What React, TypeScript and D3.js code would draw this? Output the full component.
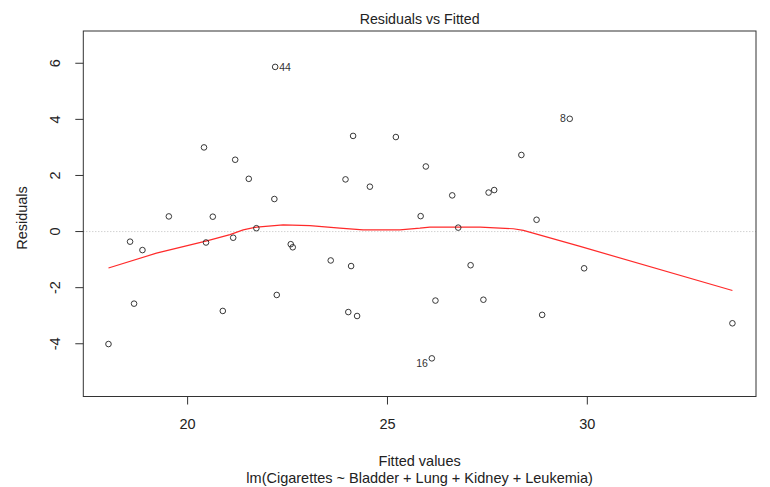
import React from "react";
import * as d3 from "d3";

// Fitted values (x) and residuals (y)
const fitted = [
  22.19, 20.41, 21.19, 21.53, 22.17, 19.53, 20.63, 24.14, 23.95, 18.56,
  18.87, 20.46, 21.14, 21.72, 22.58, 22.63, 23.58, 24.09, 18.66, 20.88,
  22.23, 24.02, 24.24, 18.02, 29.56, 25.21, 25.96, 28.35, 24.56, 26.62,
  27.53, 27.67, 25.83, 28.73, 26.77, 27.08, 29.92, 26.2, 27.4, 28.87,
  33.63, 26.11,
];
const residuals = [
  5.87, 3.0, 2.56, 1.88, 1.16, 0.54, 0.53, 3.41, 1.86, -0.36,
  -0.66, -0.39, -0.22, 0.12, -0.45, -0.56, -1.03, -1.23, -2.57, -2.83,
  -2.26, -2.87, -3.01, -4.01, 4.02, 3.37, 2.32, 2.73, 1.6, 1.29,
  1.39, 1.48, 0.55, 0.42, 0.14, -1.2, -1.31, -2.46, -2.43, -2.97,
  -3.27, -4.52,
];
// Labelled observations: index into the arrays above, label text, side
const labelIndex = [0, 24, 41];
const labelText = ["44", "8", "16"];
const labelSide = ["right", "left", "left"];

// Smoother (lowess) line
const smoothX = [18.02, 19.22, 20.48, 21.06, 21.39, 21.73, 22.39, 23.06, 23.81, 24.39, 25.31, 25.81, 26.06, 27.32, 28.15, 28.4, 29.82, 33.63];
const smoothY = [-1.3, -0.77, -0.33, -0.11, 0.06, 0.16, 0.24, 0.21, 0.12, 0.06, 0.06, 0.12, 0.16, 0.16, 0.1, 0.04, -0.53, -2.1];

const xTicks = [20, 25, 30];
const yTicks = [-4, -2, 0, 2, 4, 6];

const title = "Residuals vs Fitted";
const xLabel = "Fitted values";
const subLabel = "lm(Cigarettes ~ Bladder + Lung + Kidney + Leukemia)";
const yLabel = "Residuals";

export default function App() {
  const W = 770, H = 487;
  const left = 83.3, right = 756, top = 31, bottom = 396.5;
  const x = d3.scaleLinear().domain([17.39, 34.22]).range([left, right]);
  const y = d3.scaleLinear().domain([-5.88, 7.15]).range([bottom, top]);
  const line = d3.line<number>()
    .x((_, i) => x(smoothX[i]))
    .y((d) => y(d));
  const font = "'Liberation Sans', Arial, sans-serif";
  const textCol = "#222";
  const cx = (left + right) / 2;

  return (
    <svg width={W} height={H} style={{ position: "absolute", left: 0, top: 0, background: "#fff" }} fontFamily={font}>
      <rect x={0} y={0} width={W} height={H} fill="#fff" />
      {/* zero reference line */}
      <line x1={left} x2={right} y1={y(0)} y2={y(0)} stroke="#b0b0b0" strokeWidth={0.8} strokeDasharray="1,2" />
      {/* smoother */}
      <path d={line(smoothY) || ""} fill="none" stroke="#ff2a2a" strokeWidth={1.2} />
      {/* points */}
      {fitted.map((f, i) => (
        <circle key={i} cx={x(f)} cy={y(residuals[i])} r={2.8} fill="none" stroke="#222" strokeWidth={0.9} />
      ))}
      {labelIndex.map((idx, k) => (
        <text
          key={k}
          x={x(fitted[idx]) + (labelSide[k] === "right" ? 4 : -4)}
          y={y(residuals[idx]) + (labelText[k] === "16" ? 4.5 : 0)}
          dy="0.35em"
          textAnchor={labelSide[k] === "right" ? "start" : "end"}
          fontSize={10.5}
          fill="#333"
        >
          {labelText[k]}
        </text>
      ))}
      {/* box */}
      <rect x={left} y={top} width={right - left} height={bottom - top} fill="none" stroke="#333" strokeWidth={1} />
      {/* x axis */}
      {xTicks.map((t) => (
        <g key={t}>
          <line x1={x(t)} x2={x(t)} y1={bottom} y2={bottom + 8} stroke="#333" strokeWidth={1} />
          <text x={x(t)} y={428.5} textAnchor="middle" fontSize={14.5} fill={textCol}>{t}</text>
        </g>
      ))}
      {/* y axis */}
      {yTicks.map((t) => (
        <g key={t}>
          <line x1={left - 8} x2={left} y1={y(t)} y2={y(t)} stroke="#333" strokeWidth={1} />
          <text
            transform={`translate(60,${y(t)}) rotate(-90)`}
            textAnchor="middle"
            fontSize={14.5}
            fill={textCol}
          >
            {t}
          </text>
        </g>
      ))}
      <text x={cx} y={24} textAnchor="middle" fontSize={14.2} fill={textCol}>{title}</text>
      <text x={cx} y={466} textAnchor="middle" fontSize={14.5} fill={textCol}>{xLabel}</text>
      <text x={cx} y={483} textAnchor="middle" fontSize={14.5} fill={textCol}>{subLabel}</text>
      <text transform={`translate(26.5,218) rotate(-90)`} textAnchor="middle" fontSize={14.5} fill={textCol}>{yLabel}</text>
    </svg>
  );
}
